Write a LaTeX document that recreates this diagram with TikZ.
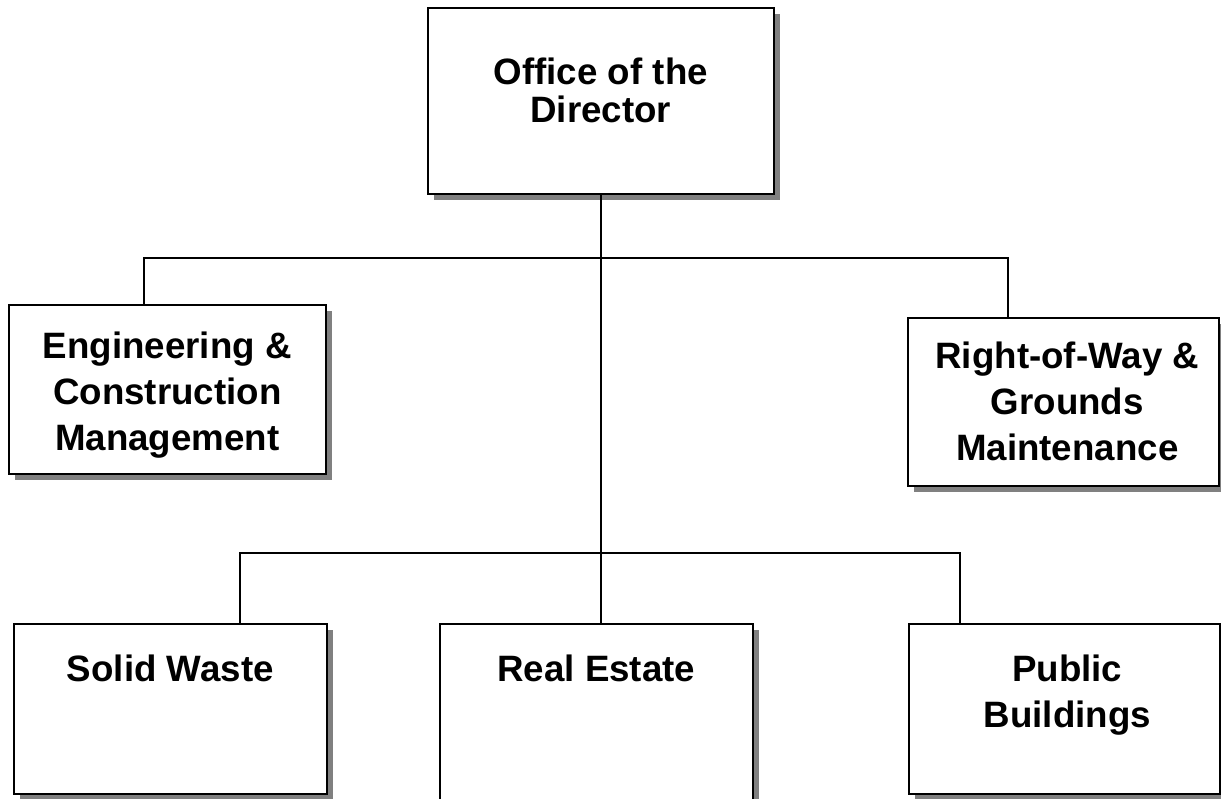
\documentclass[tikz,border=0pt]{standalone}
\usepackage{fontspec}
\setmainfont{Liberation Sans}
\usepackage{tikz}
\usetikzlibrary{positioning,shadows}

\begin{document}
\begin{tikzpicture}[
  x=1pt, y=-1pt,
  unit/.style={draw, line width=1.6pt, fill=white, inner sep=0pt,
               anchor=north west,
               drop shadow={shadow xshift=6pt, shadow yshift=-6pt,
                            fill=gray, opacity=1}},
  lbl/.style={inner sep=0pt, align=center,
              font=\bfseries\fontsize{36.7}{46}\selectfont},
  link/.style={line width=1.6pt},
]
\useasboundingbox (0,0) rectangle (1221,799);

% Top: director
\node[unit, minimum width=346pt, minimum height=186pt] (dir) at (427,7) {};
\node[lbl, font=\bfseries\fontsize{36.7}{38}\selectfont, below=50.5pt of dir.north]
  (dirtext) {Office of the\\Director};

% Row 1: two divisions
\node[unit, minimum width=317pt, minimum height=169pt] (eng) at (8,304) {};
\node[lbl, below=27.5pt of eng.north] (engtext)
  {Engineering \&\\Construction\\Management};
\node[unit, minimum width=311pt, minimum height=168pt] (row) at (907,317) {};
\node[lbl, below=24.5pt of row.north, xshift=4pt] (rowtext)
  {Right-of-Way \&\\Grounds\\Maintenance};

% Row 2: three divisions
\node[unit, minimum width=313pt, minimum height=170pt] (sw) at (13,623) {};
\node[lbl, below=31.5pt of sw.north] (swtext) {Solid Waste};
\node[unit, minimum width=313pt, minimum height=210pt] (re) at (439,623) {};
\node[lbl, below=31.5pt of re.north] (retext) {Real Estate};
\node[unit, minimum width=311pt, minimum height=170pt] (pb) at (908,623) {};
\node[lbl, below=31.5pt of pb.north, xshift=3pt] (pbtext) {Public\\Buildings};

% Connectors
\coordinate (b1) at (144,258);
\coordinate (b2) at (1008,258);
\coordinate (c1) at (240,553);
\coordinate (c2) at (960,553);
\draw[link] (dir) -- (dir |- re.north);
\draw[link] (b1 |- eng.north) -- (b1) -- (b2) -- (b2 |- row.north);
\draw[link] (c1 |- sw.north) -- (c1) -- (c2) -- (c2 |- pb.north);
\end{tikzpicture}
\end{document}
